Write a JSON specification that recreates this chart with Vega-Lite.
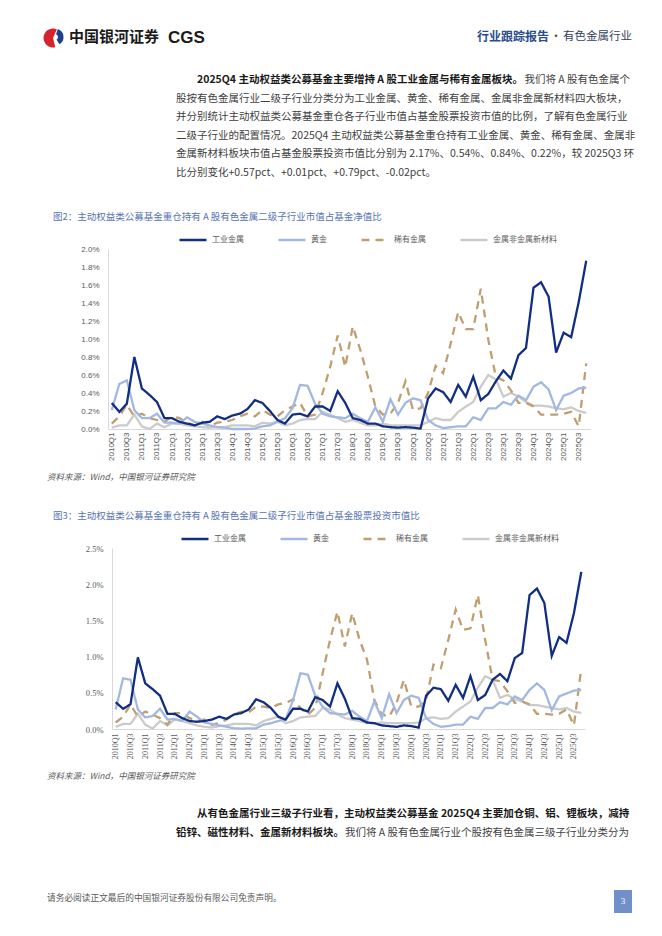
{
  "$schema": "https://vega.github.io/schema/vega-lite/v6.json",
  "width": 662,
  "height": 936,
  "padding": 0,
  "autosize": {"type": "none"},
  "background": "white",
  "config": {"view": {"stroke": null}, "font": "Noto Sans CJK SC", "text": {"font": "Noto Sans CJK SC"}},
  "datasets": {
    "c1": [
      {"q":"2010Q1","工业金属":0.29,"黄金":0.21,"稀有金属":0.06,"金属非金属新材料":0.015},
      {"q":"2010Q2","工业金属":0.19,"黄金":0.50,"稀有金属":0.14,"金属非金属新材料":0.04},
      {"q":"2010Q3","工业金属":0.28,"黄金":0.54,"稀有金属":0.27,"金属非金属新材料":0.04},
      {"q":"2010Q4","工业金属":0.80,"黄金":0.21,"稀有金属":0.14,"金属非金属新材料":0.16},
      {"q":"2011Q1","工业金属":0.45,"黄金":0.12,"稀有金属":0.17,"金属非金属新材料":0.03},
      {"q":"2011Q2","工业金属":0.38,"黄金":0.12,"稀有金属":0.12,"金属非金属新材料":0.0},
      {"q":"2011Q3","工业金属":0.30,"黄金":0.17,"稀有金属":0.10,"金属非金属新材料":0.06},
      {"q":"2011Q4","工业金属":0.12,"黄金":0.07,"稀有金属":0.08,"金属非金属新材料":0.02},
      {"q":"2012Q1","工业金属":0.12,"黄金":0.07,"稀有金属":0.14,"金属非金属新材料":0.06},
      {"q":"2012Q2","工业金属":0.08,"黄金":0.06,"稀有金属":0.12,"金属非金属新材料":0.06},
      {"q":"2012Q3","工业金属":0.06,"黄金":0.13,"稀有金属":0.07,"金属非金属新材料":0.04},
      {"q":"2012Q4","工业金属":0.04,"黄金":0.08,"稀有金属":0.04,"金属非金属新材料":0.03},
      {"q":"2013Q1","工业金属":0.07,"黄金":0.06,"稀有金属":0.08,"金属非金属新材料":0.02},
      {"q":"2013Q2","工业金属":0.08,"黄金":0.04,"稀有金属":0.03,"金属非金属新材料":0.015},
      {"q":"2013Q3","工业金属":0.14,"黄金":0.02,"稀有金属":0.07,"金属非金属新材料":0.02},
      {"q":"2013Q4","工业金属":0.11,"黄金":0.015,"稀有金属":0.08,"金属非金属新材料":0.02},
      {"q":"2014Q1","工业金属":0.15,"黄金":0.0,"稀有金属":0.10,"金属非金属新材料":0.04},
      {"q":"2014Q2","工业金属":0.17,"黄金":0.0,"稀有金属":0.14,"金属非金属新材料":0.04},
      {"q":"2014Q3","工业金属":0.22,"黄金":0.0,"稀有金属":0.17,"金属非金属新材料":0.04},
      {"q":"2014Q4","工业金属":0.32,"黄金":0.005,"稀有金属":0.14,"金属非金属新材料":0.03},
      {"q":"2015Q1","工业金属":0.29,"黄金":0.03,"稀有金属":0.21,"金属非金属新材料":0.07},
      {"q":"2015Q2","工业金属":0.20,"黄金":0.04,"稀有金属":0.16,"金属非金属新材料":0.06},
      {"q":"2015Q3","工业金属":0.10,"黄金":0.08,"稀有金属":0.14,"金属非金属新材料":0.08},
      {"q":"2015Q4","工业金属":0.06,"黄金":0.12,"稀有金属":0.21,"金属非金属新材料":0.04},
      {"q":"2016Q1","工业金属":0.16,"黄金":0.23,"稀有金属":0.25,"金属非金属新材料":0.06},
      {"q":"2016Q2","工业金属":0.17,"黄金":0.49,"稀有金属":0.29,"金属非金属新材料":0.10},
      {"q":"2016Q3","工业金属":0.14,"黄金":0.48,"稀有金属":0.14,"金属非金属新材料":0.11},
      {"q":"2016Q4","工业金属":0.25,"黄金":0.28,"稀有金属":0.16,"金属非金属新材料":0.11},
      {"q":"2017Q1","工业金属":0.25,"黄金":0.17,"稀有金属":0.40,"金属非金属新材料":0.19},
      {"q":"2017Q2","工业金属":0.20,"黄金":0.14,"稀有金属":0.69,"金属非金属新材料":0.16},
      {"q":"2017Q3","工业金属":0.42,"黄金":0.13,"稀有金属":1.04,"金属非金属新材料":0.12},
      {"q":"2017Q4","工业金属":0.29,"黄金":0.12,"稀有金属":0.69,"金属非金属新材料":0.08},
      {"q":"2018Q1","工业金属":0.12,"黄金":0.17,"稀有金属":1.14,"金属非金属新材料":0.10},
      {"q":"2018Q2","工业金属":0.10,"黄金":0.12,"稀有金属":0.88,"金属非金属新材料":0.07},
      {"q":"2018Q3","工业金属":0.06,"黄金":0.08,"稀有金属":0.58,"金属非金属新材料":0.04},
      {"q":"2018Q4","工业金属":0.06,"黄金":0.24,"稀有金属":0.25,"金属非金属新材料":0.04},
      {"q":"2019Q1","工业金属":0.03,"黄金":0.08,"稀有金属":0.16,"金属非金属新材料":0.06},
      {"q":"2019Q2","工业金属":0.02,"黄金":0.33,"稀有金属":0.17,"金属非金属新材料":0.04},
      {"q":"2019Q3","工业金属":0.015,"黄金":0.16,"稀有金属":0.29,"金属非金属新材料":0.04},
      {"q":"2019Q4","工业金属":0.02,"黄金":0.29,"稀有金属":0.53,"金属非金属新材料":0.04},
      {"q":"2020Q1","工业金属":0.015,"黄金":0.34,"稀有金属":0.21,"金属非金属新材料":0.04},
      {"q":"2020Q2","工业金属":0.005,"黄金":0.32,"稀有金属":0.23,"金属非金属新材料":0.04},
      {"q":"2020Q3","工业金属":0.34,"黄金":0.10,"稀有金属":0.40,"金属非金属新材料":0.08},
      {"q":"2020Q4","工业金属":0.45,"黄金":0.04,"稀有金属":0.70,"金属非金属新材料":0.12},
      {"q":"2021Q1","工业金属":0.41,"黄金":0.01,"稀有金属":0.62,"金属非金属新材料":0.10},
      {"q":"2021Q2","工业金属":0.30,"黄金":0.02,"稀有金属":0.95,"金属非金属新材料":0.10},
      {"q":"2021Q3","工业金属":0.49,"黄金":0.03,"稀有金属":1.30,"金属非金属新材料":0.19},
      {"q":"2021Q4","工业金属":0.36,"黄金":0.03,"稀有金属":1.11,"金属非金属新材料":0.25},
      {"q":"2022Q1","工业金属":0.58,"黄金":0.13,"稀有金属":1.11,"金属非金属新材料":0.30},
      {"q":"2022Q2","工业金属":0.32,"黄金":0.10,"稀有金属":1.56,"金属非金属新材料":0.47},
      {"q":"2022Q3","工业金属":0.39,"黄金":0.23,"稀有金属":0.99,"金属非金属新材料":0.60},
      {"q":"2022Q4","工业金属":0.53,"黄金":0.23,"稀有金属":0.58,"金属非金属新材料":0.55},
      {"q":"2023Q1","工业金属":0.65,"黄金":0.30,"稀有金属":0.54,"金属非金属新材料":0.36},
      {"q":"2023Q2","工业金属":0.56,"黄金":0.27,"稀有金属":0.43,"金属非金属新材料":0.40},
      {"q":"2023Q3","工业金属":0.82,"黄金":0.37,"稀有金属":0.29,"金属非金属新材料":0.36},
      {"q":"2023Q4","工业金属":0.90,"黄金":0.32,"稀有金属":0.29,"金属非金属新材料":0.30},
      {"q":"2024Q1","工业金属":1.57,"黄金":0.47,"稀有金属":0.25,"金属非金属新材料":0.26},
      {"q":"2024Q2","工业金属":1.63,"黄金":0.52,"稀有金属":0.16,"金属非金属新材料":0.26},
      {"q":"2024Q3","工业金属":1.47,"黄金":0.44,"稀有金属":0.16,"金属非金属新材料":0.25},
      {"q":"2024Q4","工业金属":0.85,"黄金":0.21,"稀有金属":0.16,"金属非金属新材料":0.23},
      {"q":"2025Q1","工业金属":1.07,"黄金":0.37,"稀有金属":0.17,"金属非金属新材料":0.22},
      {"q":"2025Q2","工业金属":1.02,"黄金":0.40,"稀有金属":0.19,"金属非金属新材料":0.24},
      {"q":"2025Q3","工业金属":1.41,"黄金":0.45,"稀有金属":0.03,"金属非金属新材料":0.20},
      {"q":"2025Q4","工业金属":1.87,"黄金":0.46,"稀有金属":0.73,"金属非金属新材料":0.18}
    ],
    "c2": [
      {"q":"2010Q1","工业金属":0.37,"黄金":0.27,"稀有金属":0.09,"金属非金属新材料":0.03},
      {"q":"2010Q2","工业金属":0.28,"黄金":0.70,"稀有金属":0.17,"金属非金属新材料":0.07},
      {"q":"2010Q3","工业金属":0.34,"黄金":0.68,"稀有金属":0.34,"金属非金属新材料":0.07},
      {"q":"2010Q4","工业金属":0.99,"黄金":0.27,"稀有金属":0.17,"金属非金属新材料":0.21},
      {"q":"2011Q1","工业金属":0.63,"黄金":0.16,"稀有金属":0.24,"金属非金属新材料":0.06},
      {"q":"2011Q2","工业金属":0.55,"黄金":0.18,"稀有金属":0.20,"金属非金属新材料":0.005},
      {"q":"2011Q3","工业金属":0.46,"黄金":0.28,"稀有金属":0.15,"金属非金属新材料":0.11},
      {"q":"2011Q4","工业金属":0.21,"黄金":0.13,"稀有金属":0.06,"金属非金属新材料":0.05},
      {"q":"2012Q1","工业金属":0.21,"黄金":0.14,"稀有金属":0.22,"金属非金属新材料":0.13},
      {"q":"2012Q2","工业金属":0.15,"黄金":0.11,"稀有金属":0.22,"金属非金属新材料":0.11},
      {"q":"2012Q3","工业金属":0.11,"黄金":0.24,"稀有金属":0.15,"金属非金属新材料":0.08},
      {"q":"2012Q4","工业金属":0.10,"黄金":0.17,"稀有金属":0.11,"金属非金属新材料":0.05},
      {"q":"2013Q1","工业金属":0.11,"黄金":0.09,"稀有金属":0.13,"金属非金属新材料":0.03},
      {"q":"2013Q2","工业金属":0.13,"黄金":0.07,"稀有金属":0.06,"金属非金属新材料":0.02},
      {"q":"2013Q3","工业金属":0.17,"黄金":0.05,"稀有金属":0.08,"金属非金属新材料":0.04},
      {"q":"2013Q4","工业金属":0.14,"黄金":0.03,"稀有金属":0.13,"金属非金属新材料":0.05},
      {"q":"2014Q1","工业金属":0.20,"黄金":0.01,"稀有金属":0.20,"金属非金属新材料":0.07},
      {"q":"2014Q2","工业金属":0.22,"黄金":0.005,"稀有金属":0.24,"金属非金属新材料":0.07},
      {"q":"2014Q3","工业金属":0.27,"黄金":0.01,"稀有金属":0.23,"金属非金属新材料":0.07},
      {"q":"2014Q4","工业金属":0.41,"黄金":0.01,"稀有金属":0.31,"金属非金属新材料":0.05},
      {"q":"2015Q1","工业金属":0.37,"黄金":0.06,"稀有金属":0.31,"金属非金属新材料":0.11},
      {"q":"2015Q2","工业金属":0.29,"黄金":0.08,"稀有金属":0.29,"金属非金属新材料":0.14},
      {"q":"2015Q3","工业金属":0.17,"黄金":0.11,"稀有金属":0.34,"金属非金属新材料":0.17},
      {"q":"2015Q4","工业金属":0.13,"黄金":0.13,"稀有金属":0.36,"金属非金属新材料":0.08},
      {"q":"2016Q1","工业金属":0.28,"黄金":0.40,"稀有金属":0.41,"金属非金属新材料":0.11},
      {"q":"2016Q2","工业金属":0.28,"黄金":0.77,"稀有金属":0.29,"金属非金属新材料":0.16},
      {"q":"2016Q3","工业金属":0.24,"黄金":0.75,"稀有金属":0.20,"金属非金属新材料":0.17},
      {"q":"2016Q4","工业金属":0.44,"黄金":0.46,"稀有金属":0.29,"金属非金属新材料":0.18},
      {"q":"2017Q1","工业金属":0.40,"黄金":0.31,"稀有金属":0.77,"金属非金属新材料":0.29},
      {"q":"2017Q2","工业金属":0.31,"黄金":0.22,"稀有金属":1.23,"金属非金属新材料":0.27},
      {"q":"2017Q3","工业金属":0.63,"黄金":0.21,"稀有金属":1.62,"金属非金属新材料":0.20},
      {"q":"2017Q4","工业金属":0.42,"黄金":0.20,"稀有金属":1.14,"金属非金属新材料":0.15},
      {"q":"2018Q1","工业金属":0.15,"黄金":0.25,"稀有金属":1.60,"金属非金属新材料":0.13},
      {"q":"2018Q2","工业金属":0.14,"黄金":0.17,"稀有金属":1.23,"金属非金属新材料":0.11},
      {"q":"2018Q3","工业金属":0.09,"黄金":0.11,"稀有金属":0.96,"金属非金属新材料":0.08},
      {"q":"2018Q4","工业金属":0.08,"黄金":0.38,"稀有金属":0.40,"金属非金属新材料":0.08},
      {"q":"2019Q1","工业金属":0.05,"黄金":0.15,"稀有金属":0.20,"金属非金属新材料":0.09},
      {"q":"2019Q2","工业金属":0.04,"黄金":0.48,"稀有金属":0.17,"金属非金属新材料":0.08},
      {"q":"2019Q3","工业金属":0.03,"黄金":0.22,"稀有金属":0.36,"金属非金属新材料":0.08},
      {"q":"2019Q4","工业金属":0.05,"黄金":0.40,"稀有金属":0.68,"金属非金属新材料":0.08},
      {"q":"2020Q1","工业金属":0.04,"黄金":0.46,"稀有金属":0.31,"金属非金属新材料":0.08},
      {"q":"2020Q2","工业金属":0.02,"黄金":0.43,"稀有金属":0.31,"金属非金属新材料":0.09},
      {"q":"2020Q3","工业金属":0.46,"黄金":0.15,"稀有金属":0.40,"金属非金属新材料":0.15},
      {"q":"2020Q4","工业金属":0.57,"黄金":0.07,"稀有金属":0.89,"金属非金属新材料":0.16},
      {"q":"2021Q1","工业金属":0.55,"黄金":0.03,"稀有金属":0.84,"金属非金属新材料":0.14},
      {"q":"2021Q2","工业金属":0.39,"黄金":0.04,"稀有金属":1.23,"金属非金属新材料":0.15},
      {"q":"2021Q3","工业金属":0.61,"黄金":0.06,"稀有金属":1.65,"金属非金属新材料":0.24},
      {"q":"2021Q4","工业金属":0.43,"黄金":0.06,"稀有金属":1.37,"金属非金属新材料":0.31},
      {"q":"2022Q1","工业金属":0.73,"黄金":0.17,"稀有金属":1.39,"金属非金属新材料":0.38},
      {"q":"2022Q2","工业金属":0.40,"黄金":0.14,"稀有金属":1.85,"金属非金属新材料":0.57},
      {"q":"2022Q3","工业金属":0.47,"黄金":0.29,"稀有金属":1.23,"金属非金属新材料":0.73},
      {"q":"2022Q4","工业金属":0.68,"黄金":0.29,"稀有金属":0.68,"金属非金属新材料":0.68},
      {"q":"2023Q1","工业金属":0.76,"黄金":0.37,"稀有金属":0.66,"金属非金属新材料":0.43},
      {"q":"2023Q2","工业金属":0.66,"黄金":0.34,"稀有金属":0.52,"金属非金属新材料":0.47},
      {"q":"2023Q3","工业金属":0.98,"黄金":0.45,"稀有金属":0.36,"金属非金属新材料":0.41},
      {"q":"2023Q4","工业金属":1.05,"黄金":0.40,"稀有金属":0.38,"金属非金属新材料":0.38},
      {"q":"2024Q1","工业金属":1.85,"黄金":0.54,"稀有金属":0.34,"金属非金属新材料":0.33},
      {"q":"2024Q2","工业金属":1.94,"黄金":0.63,"稀有金属":0.21,"金属非金属新材料":0.33},
      {"q":"2024Q3","工业金属":1.74,"黄金":0.54,"稀有金属":0.21,"金属非金属新材料":0.31},
      {"q":"2024Q4","工业金属":1.01,"黄金":0.26,"稀有金属":0.20,"金属非金属新材料":0.29},
      {"q":"2025Q1","工业金属":1.27,"黄金":0.45,"稀有金属":0.21,"金属非金属新材料":0.27},
      {"q":"2025Q2","工业金属":1.19,"黄金":0.49,"稀有金属":0.27,"金属非金属新材料":0.29},
      {"q":"2025Q3","工业金属":1.60,"黄金":0.53,"稀有金属":0.05,"金属非金属新材料":0.24},
      {"q":"2025Q4","工业金属":2.17,"黄金":0.54,"稀有金属":0.84,"金属非金属新材料":0.22}
    ]
  },
  "layer": [
    {"data": {"values": [{}]}, "mark": {"type": "arc", "x": 53, "y": 38, "radius": 9.5, "radius2": 0, "theta": 2.9, "theta2": 6.7, "fill": "#d7232e"}, "encoding": {}},
    {"data": {"values": [{}]}, "mark": {"type": "arc", "x": 55, "y": 37, "radius": 8.5, "radius2": 3, "theta": 0.35, "theta2": 2.6, "fill": "#1d3f8f"}, "encoding": {}},
    {"data": {"values": [{}]}, "mark": {"type": "text", "text": "中国银河证券", "x": 69, "y": 37, "align": "left", "baseline": "middle", "fontSize": 15, "fontWeight": "bold", "fill": "#1a1a1a"}, "encoding": {}},
    {"data": {"values": [{}]}, "mark": {"type": "rule", "x": 165, "x2": 165, "y": 29, "y2": 45, "stroke": "#555555", "strokeWidth": 1}, "encoding": {}},
    {"data": {"values": [{}]}, "mark": {"type": "text", "text": "CGS", "x": 168, "y": 37.5, "align": "left", "baseline": "middle", "fontSize": 17, "fontWeight": "bold", "font": "Liberation Sans", "fill": "#1a1a1a"}, "encoding": {}},
    {"data": {"values": [{}]}, "mark": {"type": "text", "text": "行业跟踪报告", "x": 477, "y": 37, "align": "left", "baseline": "middle", "fontSize": 12, "fontWeight": "bold", "fill": "#2b4c8c"}, "encoding": {}},
    {"data": {"values": [{}]}, "mark": {"type": "text", "text": "·", "x": 556, "y": 37, "align": "center", "baseline": "middle", "fontSize": 12, "fill": "#555555"}, "encoding": {}},
    {"data": {"values": [{}]}, "mark": {"type": "text", "text": "有色金属行业", "x": 632, "y": 37, "align": "right", "baseline": "middle", "fontSize": 11.5, "fill": "#33405e"}, "encoding": {}},

    {"data": {"values": [{}]}, "mark": {"type": "text", "text": "2025Q4 主动权益类公募基金主要增持 A 股工业金属与稀有金属板块。", "x": 197, "y": 80, "align": "left", "baseline": "middle", "fontSize": 10.5, "fontWeight": "bold", "fill": "#1a1a1a"}, "encoding": {}},
    {"data": {"values": [{}]}, "mark": {"type": "text", "text": "我们将 A 股有色金属个", "x": 630, "y": 80, "align": "right", "baseline": "middle", "fontSize": 10.5, "fill": "#404040"}, "encoding": {}},
    {"data": {"values": [{}]}, "mark": {"type": "text", "text": "股按有色金属行业二级子行业分类分为工业金属、黄金、稀有金属、金属非金属新材料四大板块，", "x": 176, "y": 98.5, "align": "left", "baseline": "middle", "fontSize": 10.5, "fill": "#404040"}, "encoding": {}},
    {"data": {"values": [{}]}, "mark": {"type": "text", "text": "并分别统计主动权益类公募基金重仓各子行业市值占基金股票投资市值的比例，了解有色金属行业", "x": 176, "y": 117, "align": "left", "baseline": "middle", "fontSize": 10.5, "fill": "#404040"}, "encoding": {}},
    {"data": {"values": [{}]}, "mark": {"type": "text", "text": "二级子行业的配置情况。2025Q4 主动权益类公募基金重仓持有工业金属、黄金、稀有金属、金属非", "x": 176, "y": 135.5, "align": "left", "baseline": "middle", "fontSize": 10.5, "fill": "#404040"}, "encoding": {}},
    {"data": {"values": [{}]}, "mark": {"type": "text", "text": "金属新材料板块市值占基金股票投资市值比分别为 2.17%、0.54%、0.84%、0.22%，较 2025Q3 环", "x": 176, "y": 154, "align": "left", "baseline": "middle", "fontSize": 10.5, "fill": "#404040"}, "encoding": {}},
    {"data": {"values": [{}]}, "mark": {"type": "text", "text": "比分别变化+0.57pct、+0.01pct、+0.79pct、-0.02pct。", "x": 176, "y": 172.5, "align": "left", "baseline": "middle", "fontSize": 10.5, "fill": "#404040"}, "encoding": {}},

    {"data": {"values": [{}]}, "mark": {"type": "text", "text": "图2：主动权益类公募基金重仓持有 A 股有色金属二级子行业市值占基金净值比", "x": 53, "y": 217, "align": "left", "baseline": "middle", "fontSize": 9.5, "fill": "#5673b3"}, "encoding": {}},
    {"data": {"values": [{}]}, "mark": {"type": "rule", "x": 47, "x2": 630, "y": 227, "y2": 227, "stroke": "#5f719c", "strokeWidth": 1.3}, "encoding": {}},
    {"data": {"values": [{}]}, "mark": {"type": "rule", "x": 47, "x2": 630, "y": 467, "y2": 467, "stroke": "#7486b0", "strokeWidth": 1}, "encoding": {}},
    {"data": {"values": [{}]}, "mark": {"type": "text", "text": "资料来源：Wind，中国银河证券研究院", "x": 47, "y": 477, "align": "left", "baseline": "middle", "fontSize": 8.5, "fontStyle": "italic", "fill": "#595959"}, "encoding": {}},

    {"data": {"values": [{}]}, "mark": {"type": "text", "text": "图3：主动权益类公募基金重仓持有 A 股有色金属二级子行业市值占基金股票投资市值比", "x": 53, "y": 516, "align": "left", "baseline": "middle", "fontSize": 9.5, "fill": "#5673b3"}, "encoding": {}},
    {"data": {"values": [{}]}, "mark": {"type": "rule", "x": 47, "x2": 630, "y": 526, "y2": 526, "stroke": "#5f719c", "strokeWidth": 1.3}, "encoding": {}},
    {"data": {"values": [{}]}, "mark": {"type": "rule", "x": 47, "x2": 630, "y": 767, "y2": 767, "stroke": "#7486b0", "strokeWidth": 1}, "encoding": {}},
    {"data": {"values": [{}]}, "mark": {"type": "text", "text": "资料来源：Wind，中国银河证券研究院", "x": 47, "y": 776, "align": "left", "baseline": "middle", "fontSize": 8.5, "fontStyle": "italic", "fill": "#595959"}, "encoding": {}},

    {"data": {"values": [{}]}, "mark": {"type": "text", "text": "从有色金属行业三级子行业看，主动权益类公募基金 2025Q4 主要加仓铜、铝、锂板块，减持", "x": 197, "y": 814, "align": "left", "baseline": "middle", "fontSize": 10.5, "fontWeight": "bold", "fill": "#1a1a1a"}, "encoding": {}},
    {"data": {"values": [{}]}, "mark": {"type": "text", "text": "铅锌、磁性材料、金属新材料板块。", "x": 176, "y": 833, "align": "left", "baseline": "middle", "fontSize": 10.5, "fontWeight": "bold", "fill": "#1a1a1a"}, "encoding": {}},
    {"data": {"values": [{}]}, "mark": {"type": "text", "text": "我们将 A 股有色金属行业个股按有色金属三级子行业分类分为", "x": 345, "y": 833, "align": "left", "baseline": "middle", "fontSize": 10.5, "fill": "#404040"}, "encoding": {}},

    {"data": {"values": [{}]}, "mark": {"type": "rule", "x": 47, "x2": 614, "y": 890, "y2": 890, "stroke": "#3f3f3f", "strokeWidth": 1}, "encoding": {}},
    {"data": {"values": [{}]}, "mark": {"type": "text", "text": "请务必阅读正文最后的中国银河证券股份有限公司免责声明。", "x": 47, "y": 898, "align": "left", "baseline": "middle", "fontSize": 8.7, "fill": "#595959"}, "encoding": {}},
    {"data": {"values": [{}]}, "mark": {"type": "rect", "x": 614, "x2": 632, "y": 890, "y2": 913, "fill": "#7190c9"}, "encoding": {}},
    {"data": {"values": [{}]}, "mark": {"type": "text", "text": "3", "x": 623, "y": 901, "align": "center", "baseline": "middle", "fontSize": 9, "font": "Liberation Serif", "fill": "white"}, "encoding": {}},

    {
      "data": {"name": "c1"},
      "transform": [{"fold": ["金属非金属新材料", "稀有金属", "黄金", "工业金属"], "as": ["s", "v"]}],
      "mark": {"type": "line", "strokeWidth": 2.3},
      "encoding": {
        "x": {"field": "q", "type": "ordinal", "scale": {"type": "point", "range": [108, 590], "padding": 0.5},
          "axis": {"orient": "bottom", "offset": -507, "title": null, "ticks": false, "grid": false, "domainColor": "#d9d9d9", "domainWidth": 1,
            "labelAngle": 270, "labelAlign": "right", "labelBaseline": "middle", "labelPadding": 3, "labelFont": "Liberation Sans", "labelFontSize": 8, "labelColor": "#595959", "labelOverlap": false, "labelBound": false,
            "values": ["2010Q1","2010Q3","2011Q1","2011Q3","2012Q1","2012Q3","2013Q1","2013Q3","2014Q1","2014Q3","2015Q1","2015Q3","2016Q1","2016Q3","2017Q1","2017Q3","2018Q1","2018Q3","2019Q1","2019Q3","2020Q1","2020Q3","2021Q1","2021Q3","2022Q1","2022Q3","2023Q1","2023Q3","2024Q1","2024Q3","2025Q1","2025Q3"]}},
        "y": {"field": "v", "type": "quantitative", "scale": {"domain": [0, 2], "range": [429, 249], "nice": false, "zero": true},
          "axis": {"orient": "left", "offset": -108, "title": null, "ticks": false, "grid": false, "domainColor": "#d9d9d9", "domainWidth": 1,
            "values": [0, 0.2, 0.4, 0.6, 0.8, 1.0, 1.2, 1.4, 1.6, 1.8, 2.0], "labelExpr": "format(datum.value, '.1f') + '%'", "labelPadding": 9, "labelFont": "Liberation Sans", "labelFontSize": 8, "labelColor": "#595959"}},
        "color": {"field": "s", "type": "nominal",
          "scale": {"domain": ["工业金属", "黄金", "稀有金属", "金属非金属新材料"], "range": ["#112e80", "#a3b8e0", "#bf9f70", "#cbcbcb"]},
          "legend": {"orient": "none", "legendX": 178, "legendY": 225, "direction": "horizontal", "title": null, "padding": 0, "symbolType": "stroke", "symbolSize": 729, "symbolStrokeWidth": 2.5, "labelFontSize": 8, "labelColor": "#595959", "columnPadding": 29, "labelOffset": 4}},
        "strokeDash": {"field": "s", "type": "nominal",
          "scale": {"domain": ["工业金属", "黄金", "稀有金属", "金属非金属新材料"], "range": [[1, 0], [1, 0], [8, 6], [1, 0]]},
          "legend": {"orient": "none", "legendX": 178, "legendY": 225, "direction": "horizontal", "title": null, "padding": 0, "symbolType": "stroke", "symbolSize": 729, "symbolStrokeWidth": 2.5, "labelFontSize": 8, "labelColor": "#595959", "columnPadding": 29, "labelOffset": 4}}
      }
    },
    {
      "data": {"name": "c2"},
      "transform": [{"fold": ["金属非金属新材料", "稀有金属", "黄金", "工业金属"], "as": ["s", "v"]}],
      "mark": {"type": "line", "strokeWidth": 2.3},
      "encoding": {
        "x": {"field": "q", "type": "ordinal", "scale": {"type": "point", "range": [112, 585], "padding": 0.5},
          "axis": {"orient": "bottom", "offset": -207, "title": null, "ticks": false, "grid": false, "domainColor": "#d9d9d9", "domainWidth": 1,
            "labelAngle": 270, "labelAlign": "right", "labelBaseline": "middle", "labelPadding": 4, "labelFont": "Liberation Serif", "labelFontSize": 8, "labelColor": "#595959", "labelOverlap": false, "labelBound": false,
            "values": ["2010Q1","2010Q3","2011Q1","2011Q3","2012Q1","2012Q3","2013Q1","2013Q3","2014Q1","2014Q3","2015Q1","2015Q3","2016Q1","2016Q3","2017Q1","2017Q3","2018Q1","2018Q3","2019Q1","2019Q3","2020Q1","2020Q3","2021Q1","2021Q3","2022Q1","2022Q3","2023Q1","2023Q3","2024Q1","2024Q3","2025Q1","2025Q3"]}},
        "y": {"field": "v", "type": "quantitative", "scale": {"domain": [0, 2.5], "range": [729, 548], "nice": false, "zero": true},
          "axis": {"orient": "left", "offset": -112, "title": null, "ticks": false, "grid": false, "domainColor": "#d9d9d9", "domainWidth": 1,
            "values": [0, 0.5, 1.0, 1.5, 2.0, 2.5], "labelExpr": "format(datum.value, '.1f') + '%'", "labelPadding": 9, "labelFont": "Liberation Serif", "labelFontSize": 8.5, "labelColor": "#595959"}},
        "color": {"field": "s", "type": "nominal",
          "scale": {"domain": ["工业金属", "黄金", "稀有金属", "金属非金属新材料"], "range": ["#112e80", "#a3b8e0", "#bf9f70", "#cbcbcb"]},
          "legend": {"orient": "none", "legendX": 180, "legendY": 524, "direction": "horizontal", "title": null, "padding": 0, "symbolType": "stroke", "symbolSize": 729, "symbolStrokeWidth": 2.5, "labelFontSize": 8, "labelColor": "#595959", "columnPadding": 29, "labelOffset": 4}},
        "strokeDash": {"field": "s", "type": "nominal",
          "scale": {"domain": ["工业金属", "黄金", "稀有金属", "金属非金属新材料"], "range": [[1, 0], [1, 0], [8, 6], [1, 0]]},
          "legend": {"orient": "none", "legendX": 180, "legendY": 524, "direction": "horizontal", "title": null, "padding": 0, "symbolType": "stroke", "symbolSize": 729, "symbolStrokeWidth": 2.5, "labelFontSize": 8, "labelColor": "#595959", "columnPadding": 29, "labelOffset": 4}}
      }
    }
  ],
  "resolve": {
    "scale": {"x": "independent", "y": "independent", "color": "independent", "strokeDash": "independent"},
    "axis": {"x": "independent", "y": "independent"},
    "legend": {"color": "independent", "strokeDash": "independent"}
  }
}
